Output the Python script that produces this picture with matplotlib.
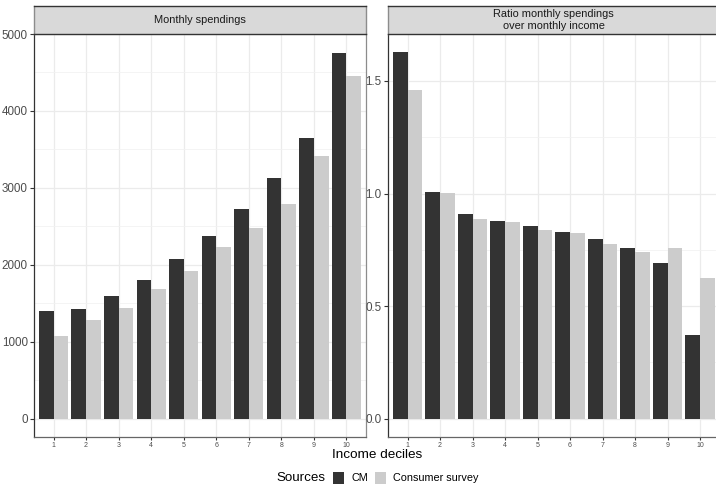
import matplotlib
matplotlib.use("Agg")
import matplotlib.pyplot as plt
from matplotlib.patches import Rectangle
import numpy as np

plt.rcParams["font.family"] = ["Liberation Sans", "DejaVu Sans"]

deciles = [1, 2, 3, 4, 5, 6, 7, 8, 9, 10]
tick_labels = [str(d) for d in deciles]
spend_cm = [1403, 1429, 1597, 1805, 2078, 2377, 2727, 3130, 3649, 4753]
spend_survey = [1078, 1286, 1442, 1688, 1922, 2234, 2481, 2792, 3416, 4455]
ratio_cm = [1.627, 1.008, 0.911, 0.876, 0.858, 0.827, 0.800, 0.760, 0.693, 0.373]
ratio_survey = [1.459, 1.002, 0.889, 0.875, 0.836, 0.826, 0.778, 0.742, 0.756, 0.627]
series_names = ["CM", "Consumer survey"]
colors = ["#333333", "#CCCCCC"]

W, H = 716, 484
fig = plt.figure(figsize=(W / 100, H / 100), dpi=100)

def px_axes(x0, x1, ytop, ybot):
    return fig.add_axes([x0 / W, 1 - ybot / H, (x1 - x0) / W, (ybot - ytop) / H])

def style_panel(ax, ylim, major, minor, fmt):
    ax.set_xlim(0.4, 10.6)
    ax.set_ylim(*ylim)
    ax.set_yticks(major)
    ax.set_yticks(minor, minor=True)
    ax.set_yticklabels([fmt(v) for v in major])
    ax.set_xticks(deciles)
    ax.set_xticklabels(tick_labels)
    ax.grid(True, which="major", color="#EBEBEB", linewidth=0.9)
    ax.grid(True, which="minor", axis="y", color="#F2F2F2", linewidth=0.6)
    ax.set_axisbelow(True)
    ax.tick_params(axis="y", which="major", length=3, width=0.8, color="#333333",
                   labelsize=8.4, labelcolor="#4D4D4D", pad=1.5)
    ax.tick_params(axis="x", which="major", length=2.5, width=0.8, color="#333333",
                   labelsize=5.0, labelcolor="#4D4D4D", pad=1.0)
    ax.tick_params(which="minor", length=0)
    ax.spines["left"].set_color("#333333")
    ax.spines["bottom"].set_color("#666666")
    ax.spines["right"].set_color("#8C8C8C")
    ax.spines["top"].set_visible(False)
    for s in ax.spines.values():
        s.set_linewidth(0.9)

def bars(ax, a, b):
    x = np.array(deciles, dtype=float)
    w = 0.45
    ax.bar(x - w / 2, a, width=w, color=colors[0], linewidth=0, zorder=2)
    ax.bar(x + w / 2, b, width=w, color=colors[1], linewidth=0, zorder=2)

def strip(x0, x1, text):
    sax = px_axes(x0, x1, 6, 34)
    sax.set_facecolor("#D9D9D9")
    sax.set_xticks([]); sax.set_yticks([])
    for k, s in sax.spines.items():
        s.set_color("#333333" if k in ("top", "bottom") else "#8C8C8C")
        s.set_linewidth(1.0)
    sax.text(0.5, 0.5, text, ha="center", va="center", fontsize=7.9,
             color="#1A1A1A", transform=sax.transAxes, linespacing=1.25)

# Left panel
ax1 = px_axes(34, 366, 34, 437)
bars(ax1, spend_cm, spend_survey)
style_panel(ax1, (-238, 4991), [0, 1000, 2000, 3000, 4000, 5000],
            [500, 1500, 2500, 3500, 4500], lambda v: f"{v:d}")
strip(34, 366, "Monthly spendings")

# Right panel
ax2 = px_axes(388, 719.5, 34, 437)
bars(ax2, ratio_cm, ratio_survey)
style_panel(ax2, (-0.0813, 1.7086), [0.0, 0.5, 1.0, 1.5],
            [0.25, 0.75, 1.25], lambda v: f"{v:.1f}")
strip(388, 719.5, "Ratio monthly spendings\nover monthly income")

# Axis title
fig.text(377 / W, 1 - 454.5 / H, "Income deciles", ha="center", va="center",
         fontsize=9.7, color="black")

# Legend
ly = 478
fig.text(276 / W, 1 - ly / H, "Sources", ha="left", va="center", fontsize=9.6, color="black")
for i, (name, c) in enumerate(zip(series_names, colors)):
    bx = [333, 375][i]
    fig.patches.append(Rectangle((bx / W, 1 - (ly + 6) / H), 11 / W, 12 / H,
                                 transform=fig.transFigure, facecolor=c, edgecolor="none"))
    tx = [351, 393][i]
    fig.text(tx / W, 1 - ly / H, name, ha="left", va="center", fontsize=7.8, color="black")

fig.savefig("out.png", dpi=100)
